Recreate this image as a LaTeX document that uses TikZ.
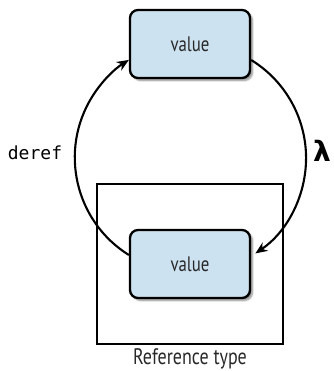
\documentclass[tikz,border=0pt]{standalone}
\usepackage{fontspec}
\newfontfamily\condfont[FakeStretch=0.8]{PT Sans}
\newfontfamily\monofont{DejaVu Sans Mono}
\newfontfamily\lamfont{DejaVu Sans}
\usetikzlibrary{arrows.meta,shadows.blur}
\definecolor{boxblue}{RGB}{205,226,240}
\definecolor{txtgray}{RGB}{40,40,40}
\tikzset{
  valbox/.style={draw=black, line width=2.3pt, fill=boxblue, rounded corners=8pt,
    minimum width=120pt, minimum height=68pt, inner sep=0pt,
    font=\condfont\fontsize{21}{25}\selectfont, text=txtgray,
    blur shadow={shadow xshift=2.5pt, shadow yshift=-2.5pt, shadow blur steps=6, shadow opacity=45}},
  refbox/.style={draw=black, line width=1.7pt, minimum width=186pt, minimum height=160pt, inner sep=0pt},
  arcline/.style={line width=2.1pt, -{Stealth[length=12pt,width=10pt]}},
  lbl/.style={inner sep=0pt}
}
\begin{document}
\begin{tikzpicture}[x=1pt,y=1pt]
\useasboundingbox (0,0) rectangle (333,371);
\node[refbox] (ref) at (190,107) {};
\node[valbox] (top) at (190,327) {value};
\node[valbox] (bot) at (190,107) {value};
\node[lbl, font=\condfont\fontsize{22.5}{26}\selectfont, text=txtgray] (reftype) at (190,12) {Reference type};
\draw[arcline] ([yshift=9pt]bot.west) arc[start angle=238, end angle=122, radius=115];
\draw[arcline] ([yshift=-16pt]top.east) arc[start angle=58.5, end angle=-56, radius=115];
\node[lbl, font=\monofont\fontsize{18}{21}\selectfont] (deref) at (35,218) {deref};
\node[lbl, font=\lamfont\bfseries\fontsize{28}{33}\selectfont] (lam) at (322,220) {λ};
\end{tikzpicture}
\end{document}
